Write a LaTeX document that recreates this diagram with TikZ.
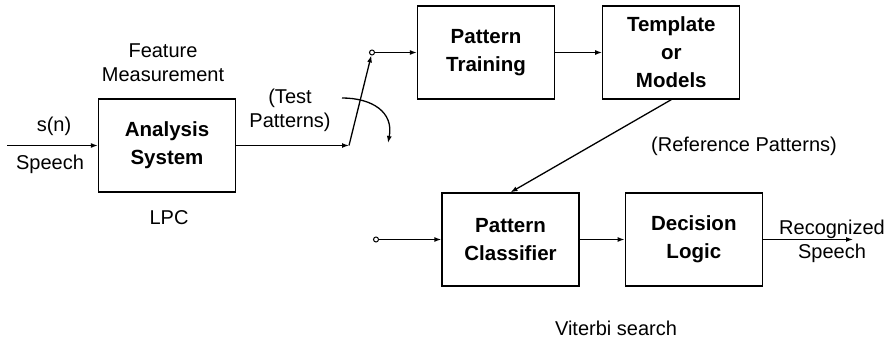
\documentclass[tikz,border=0pt]{standalone}
\usepackage{fontspec}
\setmainfont{Liberation Sans}
\usetikzlibrary{positioning,arrows.meta}

\begin{document}
\begin{tikzpicture}[x=1pt,y=-1pt,
  block/.style = {draw, line width=1.3pt, minimum width=137pt, minimum height=93pt, align=center, font=\fontsize{20.5}{28}\selectfont\bfseries},
  txt/.style = {align=center, font=\fontsize{20}{24}\selectfont},
  arr/.style = {line width=1.3pt, -{Latex[length=7pt,width=5pt]}},
  term/.style = {draw, circle, line width=1pt, inner sep=0pt, minimum size=5pt},
  node distance={45pt}]
\useasboundingbox (0,0) rectangle (892,339);
\node[block] (ana) at (167,145.5) {Analysis\\System};
\node[block] (train) at (486,52.5) {Pattern\\Training};
\node[block] (tmpl) [right=47pt of train] {Template\\or\\Models};
\node[block] (cls) at (510.5,239.5) {Pattern\\Classifier};
\node[block] (dec) [right=of cls] {Decision\\Logic};
\node[term] (tp) at (372,52.5) {};
\node[term] (ci) at (376,239.5) {};
\coordinate (in) at (7,145.5);
\coordinate (sw) at (349,145.5);
\coordinate (out) at (853,239.5);
\coordinate (cs) at (342,98);
\coordinate (ce) at (388,143);
% labels
\node[txt] (sn) at (54,126) {s(n)};
\node[txt] (spin) at (50,164) {Speech};
\node[txt] (feat) at (163,63) {Feature\\Measurement};
\node[txt] (lpc) at (169,218) {LPC};
\node[txt] (test) at (290,110) {(Test\\Patterns)};
\node[txt] (refp) at (744,146) {(Reference Patterns)};
\node[txt] (vit) at (616,328) {Viterbi search};
\node[txt] (rec) at (832,241) {Recognized\\Speech};
% connections
\draw[arr] (in) -- (ana.west);
\draw[arr] (ana.east) -- (sw);
\draw[arr] (sw) -- (tp);
\draw[arr] (tp) -- (train.west);
\draw[arr] (train) -- (tmpl);
\draw[arr] (cs) .. controls (372,98) and (394,112) .. (ce);
\draw[arr] (tmpl.south) -- (cls.north);
\draw[arr] (ci) -- (cls.west);
\draw[arr] (cls) -- (dec);
\draw[arr] (dec.east) -- (out);
\end{tikzpicture}
\end{document}
